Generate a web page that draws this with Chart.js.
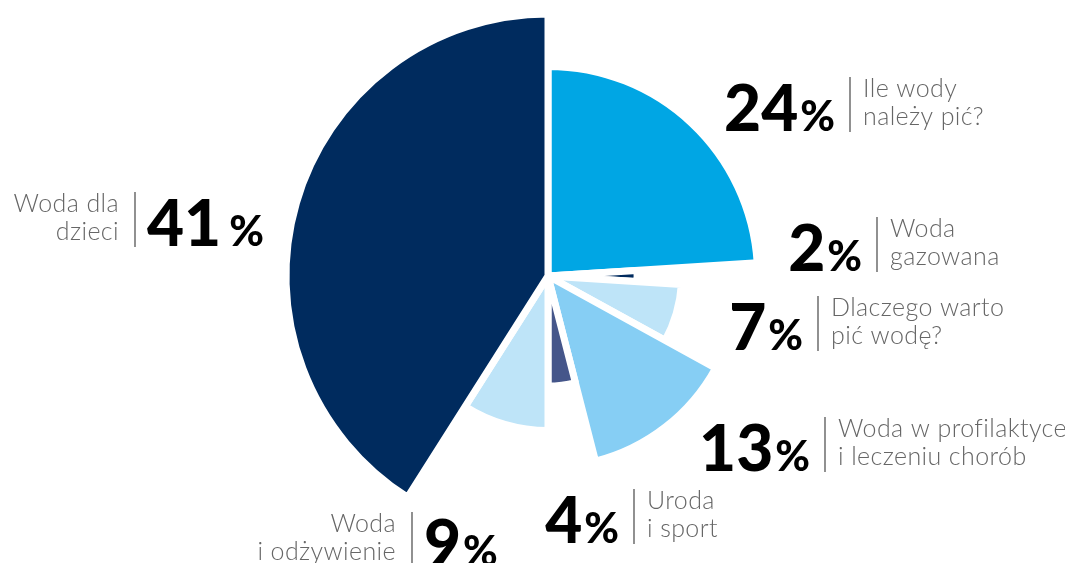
<!DOCTYPE html>
<html>
<head>
<meta charset="utf-8">
<script src="https://cdn.jsdelivr.net/npm/chart.js@4/dist/chart.umd.min.js"></script>
<style>
  html, body { margin: 0; padding: 0; background: #fff; }
  #chart { display: block; }
</style>
</head>
<body>
<canvas id="chart" width="1065" height="563"></canvas>
<script>
// slices, clockwise from 12 o'clock
const categories = [
  ['Ile wody', 'należy pić?'],
  ['Woda', 'gazowana'],
  ['Dlaczego warto', 'pić wodę?'],
  ['Woda w profilaktyce', 'i leczeniu chorób'],
  ['Uroda', 'i sport'],
  ['Woda', 'i odżywienie'],
  ['Woda dla', 'dzieci']
];
const shares = [24, 2, 7, 13, 4, 9, 41];          // percent -> slice angle
const reach = [80, 34, 51, 73, 42, 59, 100];      // relative slice length (largest = 100)
const colors = ['#00a6e4', '#002b5e', '#bee4f8', '#86cef4', '#45568a', '#bee4f8', '#002b5e'];

// where each label sits: divider x / digit baseline, relative to pie centre
// side 'r' = number left of divider, text right; 'l' = text left, number right
const labelSpots = [
  { dx: 302, dy: -145, side: 'r' },
  { dx: 329, dy: -5, side: 'r' },
  { dx: 270, dy: 74, side: 'r' },
  { dx: 277, dy: 195, side: 'r' },
  { dx: 86, dy: 267, side: 'r' },
  { dx: -136, dy: 290, side: 'l' },
  { dx: -413, dy: -30, side: 'l' }
];

const numFont = '900 64px Lato, "DejaVu Sans", sans-serif';
const pctFont = '900 42px Lato, "DejaVu Sans", sans-serif';
const txtFont = '300 25px Lato, "Open Sans", sans-serif';

const sliceLabels = {
  id: 'sliceLabels',
  afterDraw(chart) {
    const ctx = chart.ctx;
    const r = chart.scales.r;
    ctx.save();
    shares.forEach((v, i) => {
      const spot = labelSpots[i];
      const x = r.xCenter + spot.dx;
      const y = r.yCenter + spot.dy;

      // divider
      ctx.strokeStyle = '#555';
      ctx.lineWidth = 1.3;
      ctx.beginPath();
      ctx.moveTo(x, y - 54);
      ctx.lineTo(x, y + 1);
      ctx.stroke();

      // number + %
      ctx.fillStyle = '#000';
      ctx.textBaseline = 'alphabetic';
      ctx.letterSpacing = '0px';
      ctx.font = numFont;
      const numW = ctx.measureText(String(v)).width;
      ctx.font = pctFont;
      const pctW = ctx.measureText('%').width;
      const gap = v === 41 ? 8 : 2;
      let nx = spot.side === 'r' ? x - 15 - (numW + gap + pctW) : x + 12;
      ctx.textAlign = 'left';
      ctx.font = numFont;
      ctx.fillText(String(v), nx, y);
      ctx.font = pctFont;
      ctx.fillText('%', nx + numW + gap, y);

      // description
      ctx.font = txtFont;
      ctx.letterSpacing = '0.4px';
      ctx.fillStyle = '#666';
      const lines = categories[i];
      if (spot.side === 'r') {
        ctx.textAlign = 'left';
        lines.forEach((t, k) => ctx.fillText(t, x + 13, y - 34 + k * 28));
      } else {
        ctx.textAlign = 'right';
        lines.forEach((t, k) => ctx.fillText(t, x - 16, y - 34 + k * 28));
      }
    });
    ctx.restore();
  }
};

new Chart(document.getElementById('chart'), {
  type: 'polarArea',
  data: {
    labels: categories.map(c => c.join(' ')),
    datasets: [{
      data: reach,
      angle: ctx => shares[ctx.dataIndex] * 3.6,
      backgroundColor: colors,
      borderColor: '#ffffff',
      borderWidth: 7
    }]
  },
  options: {
    responsive: false,
    animation: false,
    layout: { padding: { left: 286, right: 255, top: 14, bottom: 25 } },
    scales: {
      r: {
        display: false,
        min: 0,
        max: 100,
        startAngle: 0,
        ticks: { display: false }
      }
    },
    plugins: {
      legend: { display: false },
      tooltip: { enabled: false }
    }
  },
  plugins: [sliceLabels]
});
</script>
</body>
</html>
